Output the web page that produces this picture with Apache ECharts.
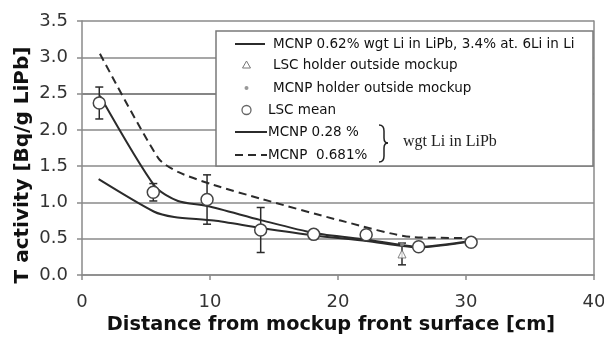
<!DOCTYPE html>
<html>
<head>
<meta charset="utf-8">
<script src="https://cdn.jsdelivr.net/npm/echarts@6/dist/echarts.min.js"></script>
<style>
html, body { margin: 0; padding: 0; background: #fff; }
#chart { width: 604px; height: 343px; }
</style>
</head>
<body>
<div id="chart"></div>
<script>
// axis ranges
const xMin = 0, xMax = 40, xStep = 10
const yMin = 0, yMax = 3.5, yStep = 0.5

// LSC mean (measured) with error
const lscMeanX = [1.35, 5.57, 9.77, 13.96, 18.1, 22.2, 26.3, 30.4]
const lscMeanY = [2.37, 1.14, 1.04, 0.62, 0.56, 0.555, 0.39, 0.45]
const lscMeanErr = [0.22, 0.12, 0.34, 0.31, 0, 0, 0, 0]

// holder outside mockup
const lscHolderX = [25.0]
const lscHolderY = [0.29]
const lscHolderErr = [0.15]
const mcnpHolderX = [25.0]
const mcnpHolderY = [0.42]

// MCNP curves
const mcnp062X = [1.4, 5.7, 7.5, 9.8, 13.9, 18.1, 22.2, 26.3, 30.4]
const mcnp062Y = [2.47, 1.22, 1.02, 0.95, 0.76, 0.58, 0.49, 0.39, 0.47]
const mcnp028X = [1.3, 5.6, 7.2, 10.3, 13.9, 18.1, 22.2, 26.3, 30.4]
const mcnp028Y = [1.32, 0.875, 0.8, 0.75, 0.65, 0.545, 0.47, 0.38, 0.46]
const mcnp0681X = [1.4, 5.96, 7.5, 10.3, 14, 20.2, 26, 30.5]
const mcnp0681Y = [3.05, 1.61, 1.42, 1.24, 1.05, 0.75, 0.52, 0.51]

const legendNames = [
    'MCNP 0.62% wgt Li in LiPb, 3.4% at. 6Li in Li',
    'LSC holder outside mockup',
    'MCNP holder outside mockup',
    'LSC mean',
    'MCNP 0.28 %',
    'MCNP  0.681%'
]

const pairs = (xs, ys) => xs.map((x, i) => [x, ys[i]])
const bars = (xs, ys, es) => xs.map((x, i) => [x, ys[i] - es[i], ys[i] + es[i]]).filter(d => d[2] > d[1])

const font = 'DejaVu Sans'
const lineColor = '#2b2b2b'
const gridColor = '#8a8a8a'

// 误差线
const renderErrorBar = (params, api) => {
    const lo = api.coord([api.value(0), api.value(1)])
    const hi = api.coord([api.value(0), api.value(2)])
    const w = 4
    const style = { stroke: lineColor, lineWidth: 1.5 }
    return {
        type: 'group',
        children: [
            { type: 'line', shape: { x1: lo[0], y1: lo[1], x2: hi[0], y2: hi[1] }, style },
            { type: 'line', shape: { x1: lo[0] - w, y1: lo[1], x2: lo[0] + w, y2: lo[1] }, style },
            { type: 'line', shape: { x1: hi[0] - w, y1: hi[1], x2: hi[0] + w, y2: hi[1] }, style }
        ]
    }
}

// 图例 (drawn by hand, the box layout is custom)
const lx = 216, ly = 31
const legendText = (x, y, text) => ({
    type: 'text', x, y, z: 101,
    style: { text, font: `13.5px "${font}"`, fill: '#111', verticalAlign: 'middle' }
})
const braceStyle = { fill: 'none', stroke: '#222', lineWidth: 1.5 }
const brace = [
    { type: 'bezierCurve', z: 101, shape: { x1: 379, y1: 125, x2: 384, y2: 131, cpx1: 384, cpy1: 125 }, style: braceStyle },
    { type: 'line', z: 101, shape: { x1: 384, y1: 131, x2: 384, y2: 138 }, style: braceStyle },
    { type: 'bezierCurve', z: 101, shape: { x1: 384, y1: 138, x2: 388, y2: 143, cpx1: 384, cpy1: 143 }, style: braceStyle },
    { type: 'bezierCurve', z: 101, shape: { x1: 388, y1: 143, x2: 384, y2: 148, cpx1: 384, cpy1: 143 }, style: braceStyle },
    { type: 'line', z: 101, shape: { x1: 384, y1: 148, x2: 384, y2: 156 }, style: braceStyle },
    { type: 'bezierCurve', z: 101, shape: { x1: 384, y1: 156, x2: 379, y2: 162, cpx1: 384, cpy1: 162 }, style: braceStyle }
]
const legendGraphic = [
    { type: 'rect', z: 100, shape: { x: lx, y: ly, width: 377, height: 135 },
      style: { fill: '#fff', stroke: '#7a7a7a', lineWidth: 1.5 } },
    { type: 'line', z: 101, shape: { x1: 235, y1: 44, x2: 265, y2: 44 }, style: { stroke: lineColor, lineWidth: 2 } },
    legendText(273, 44, legendNames[0]),
    { type: 'polygon', z: 101, shape: { points: [[246.5, 61], [250.5, 68], [242.5, 68]] },
      style: { fill: '#fff', stroke: '#777', lineWidth: 1 } },
    legendText(273, 65, legendNames[1]),
    { type: 'circle', z: 101, shape: { cx: 246.5, cy: 88, r: 2 }, style: { fill: '#999' } },
    legendText(273, 88, legendNames[2]),
    { type: 'circle', z: 101, shape: { cx: 246.5, cy: 110, r: 4.5 }, style: { fill: '#fff', stroke: '#666', lineWidth: 1.3 } },
    legendText(268, 110, legendNames[3]),
    { type: 'line', z: 101, shape: { x1: 235, y1: 132, x2: 267, y2: 132 }, style: { stroke: lineColor, lineWidth: 2 } },
    legendText(268, 132, legendNames[4]),
    { type: 'line', z: 101, shape: { x1: 235, y1: 155, x2: 267, y2: 155 }, style: { stroke: lineColor, lineWidth: 2, lineDash: [8, 5] } },
    legendText(268, 155, legendNames[5]),
    ...brace,
    { type: 'text', x: 403, y: 142, z: 101,
      style: { text: 'wgt Li in LiPb', font: '16px "Liberation Serif"', fill: '#222', verticalAlign: 'middle' } },
    // y axis title, sits lower than the plot centre in the original
    { type: 'text', x: 23, y: 165, rotation: Math.PI / 2, z: 10,
      style: { text: 'T activity [Bq/g LiPb]', font: `bold 20px "${font}"`, fill: '#111', align: 'center', verticalAlign: 'middle' } }
]

const chart = echarts.init(document.getElementById('chart'))
const option = {
    animation: false,
    backgroundColor: '#fff',
    grid: { left: 82, right: 10, top: 21, bottom: 68, outerBoundsMode: 'none' },
    xAxis: {
        type: 'value', min: xMin, max: xMax, interval: xStep,
        name: 'Distance from mockup front surface [cm]',
        nameLocation: 'middle', nameGap: 38,
        nameTextStyle: { fontFamily: font, fontSize: 19.3, fontWeight: 'bold', color: '#111', padding: [0, 14, 0, 0] },
        axisLine: { lineStyle: { color: gridColor, width: 1.5 } },
        axisTick: { length: 5, lineStyle: { color: gridColor, width: 1.5 } },
        axisLabel: { margin: 18, fontFamily: font, fontSize: 18, color: '#333' },
        splitLine: { show: false }
    },
    yAxis: [
        {
            type: 'value', min: yMin, max: yMax, interval: yStep,
            axisLine: { show: true, lineStyle: { color: gridColor, width: 1.5 } },
            axisTick: { show: true, length: 5, lineStyle: { color: gridColor, width: 1.5 } },
            axisLabel: { margin: 14, fontFamily: font, fontSize: 18, color: '#333', formatter: v => v.toFixed(1) },
            // the 2.5 line is a touch darker in the original
            splitLine: { lineStyle: { color: [gridColor, gridColor, gridColor, gridColor, gridColor, '#5e5e5e', gridColor, gridColor], width: 1.5 } }
        },
        {
            type: 'value', min: yMin, max: yMax, position: 'right',
            axisLine: { show: true, lineStyle: { color: gridColor, width: 1.5 } },
            axisTick: { show: false }, axisLabel: { show: false }, splitLine: { show: false }
        }
    ],
    series: [
        {
            name: legendNames[0], type: 'line', data: pairs(mcnp062X, mcnp062Y),
            smooth: 0.25, symbol: 'none', z: 2,
            lineStyle: { color: lineColor, width: 2 }
        },
        {
            name: legendNames[4], type: 'line', data: pairs(mcnp028X, mcnp028Y),
            smooth: 0.25, symbol: 'none', z: 2,
            lineStyle: { color: lineColor, width: 2 }
        },
        {
            name: legendNames[5], type: 'line', data: pairs(mcnp0681X, mcnp0681Y),
            smooth: 0.25, symbol: 'none', z: 2,
            lineStyle: { color: lineColor, width: 2, type: [8, 5] }
        },
        {
            type: 'custom', z: 3, renderItem: renderErrorBar,
            data: bars(lscMeanX, lscMeanY, lscMeanErr).concat(bars(lscHolderX, lscHolderY, lscHolderErr)),
            encode: { x: 0, y: [1, 2] }
        },
        {
            name: legendNames[2], type: 'scatter', data: pairs(mcnpHolderX, mcnpHolderY), z: 4,
            symbol: 'circle', symbolSize: 4, itemStyle: { color: '#999' }
        },
        {
            name: legendNames[1], type: 'scatter', data: pairs(lscHolderX, lscHolderY), z: 4,
            symbol: 'triangle', symbolSize: 8,
            itemStyle: { color: '#fff', borderColor: '#666', borderWidth: 1 }
        },
        {
            name: legendNames[3], type: 'scatter', data: pairs(lscMeanX, lscMeanY), z: 5,
            symbol: 'circle', symbolSize: 12,
            itemStyle: { color: '#fff', borderColor: '#444', borderWidth: 1.5, opacity: 1 }
        }
    ],
    graphic: legendGraphic
}
chart.setOption(option)
</script>
</body>
</html>
